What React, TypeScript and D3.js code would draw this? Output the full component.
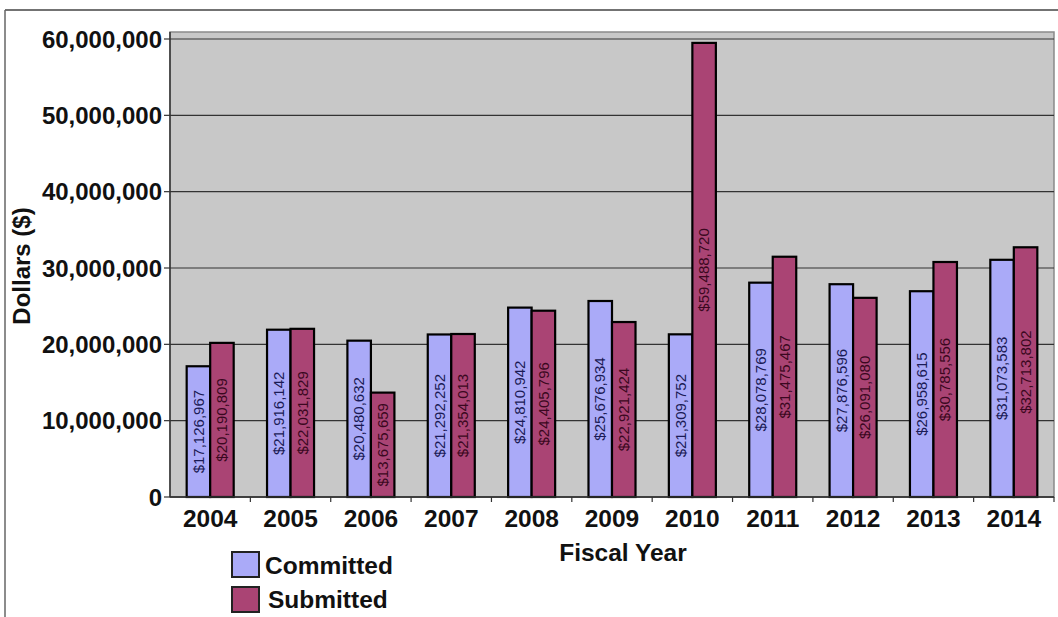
import React from "react";
import * as d3 from "d3";

const years = ["2004", "2005", "2006", "2007", "2008", "2009", "2010", "2011", "2012", "2013", "2014"];
const committed = [17126967, 21916142, 20480632, 21292252, 24810942, 25676934, 21309752, 28078769, 27876596, 26958615, 31073583];
const submitted = [20190809, 22031829, 13675659, 21354013, 24405796, 22921424, 59488720, 31475467, 26091080, 30785556, 32713802];
const yTicks = [0, 10000000, 20000000, 30000000, 40000000, 50000000, 60000000];
const seriesNames = ["Committed", "Submitted"];
const seriesColors = ["#aaaaf8", "#aa4474"];
const labelColors = ["#1a1a55", "#3a0820"];

const W = 1058;
const H = 617;
const plot = { left: 170, right: 1054, top: 32, bottom: 497 };

export default function App() {
  const x = d3
    .scaleBand<string>()
    .domain(years)
    .range([plot.left, plot.right])
    .paddingInner(0.415)
    .paddingOuter(0.2075);
  const step = x.step();
  const xs = d3.scaleBand<string>().domain(seriesNames).range([0, x.bandwidth()]);
  const y = d3.scaleLinear().domain([0, 60000000]).range([plot.bottom, 39]);
  const fmt = d3.format(",");
  const bold = "'Liberation Sans', Arial, sans-serif";
  const narrow = "'Liberation Sans Narrow', 'Arial Narrow', sans-serif";
  const series = [committed, submitted];

  return (
    <svg width={W} height={H} style={{ position: "absolute", left: 0, top: 0, background: "#fff" }}>
      {/* outer frame */}
      <line x1={5} y1={10} x2={W} y2={10} stroke="#444" strokeWidth={1.5} />
      <line x1={5} y1={10} x2={5} y2={H} stroke="#666" strokeWidth={1.5} />

      {/* plot area */}
      <rect x={plot.left} y={plot.top} width={plot.right - plot.left} height={plot.bottom - plot.top} fill="#c8c8c8" stroke="#8a8a8a" strokeWidth={1.5} />
      {yTicks.map((t) => (
        <g key={t}>
          <line x1={plot.left} x2={plot.right} y1={y(t)} y2={y(t)} stroke="#333" strokeWidth={1.2} />
          <line x1={plot.left - 6} x2={plot.left} y1={y(t)} y2={y(t)} stroke="#333" strokeWidth={1.2} />
          <text x={plot.left - 8} y={y(t)} dy="0.36em" textAnchor="end" fontFamily={bold} fontWeight="bold" fontSize={24} fill="#111">
            {fmt(t)}
          </text>
        </g>
      ))}
      <line x1={plot.left} x2={plot.left} y1={plot.top} y2={plot.bottom} stroke="#333" strokeWidth={1.5} />

      {/* x ticks */}
      {years.map((yr, i) => (
        <g key={yr}>
          <line
            x1={plot.left + step * (i + 1)}
            x2={plot.left + step * (i + 1)}
            y1={plot.bottom}
            y2={plot.bottom + 5}
            stroke="#333"
            strokeWidth={1.2}
          />
          <text x={(x(yr) as number) + x.bandwidth() / 2} y={527} textAnchor="middle" fontFamily={bold} fontWeight="bold" fontSize={24.5} fill="#111">
            {yr}
          </text>
        </g>
      ))}

      {/* bars */}
      {years.map((yr) =>
        series.map((vals, si) => {
          const i = years.indexOf(yr);
          const v = vals[i];
          const bx = (x(yr) as number) + (xs(seriesNames[si]) as number);
          const bw = xs.bandwidth();
          const top = y(v);
          const cx = bx + bw / 2;
          const cy = (top + plot.bottom) / 2;
          return (
            <g key={yr + si}>
              <rect x={bx} y={top} width={bw} height={plot.bottom - top} fill={seriesColors[si]} stroke="#000" strokeWidth={2.2} />
              <text
                transform={`translate(${cx},${cy}) rotate(-90)`}
                textAnchor="middle"
                dy="0.35em"
                fontFamily={narrow}
                fontSize={15}
                fill={labelColors[si]}
              >
                {"$" + fmt(v)}
              </text>
            </g>
          );
        })
      )}
      <line x1={plot.left} x2={plot.right} y1={plot.bottom} y2={plot.bottom} stroke="#333" strokeWidth={1.5} />

      {/* axis titles */}
      <text x={623} y={561} textAnchor="middle" fontFamily={bold} fontWeight="bold" fontSize={24.5} fill="#111">
        Fiscal Year
      </text>
      <text transform="translate(30,266) rotate(-90)" textAnchor="middle" fontFamily={bold} fontWeight="bold" fontSize={24} fill="#111">
        Dollars ($)
      </text>

      {/* legend */}
      {seriesNames.map((n, i) => (
        <g key={n}>
          <rect x={232} y={552 + i * 35} width={27} height={25} fill={seriesColors[i]} stroke="#222" strokeWidth={2} />
          <text x={265 + i * 3} y={574 + i * 34} fontFamily={bold} fontWeight="bold" fontSize={24.5} fill="#111">
            {n}
          </text>
        </g>
      ))}
    </svg>
  );
}
